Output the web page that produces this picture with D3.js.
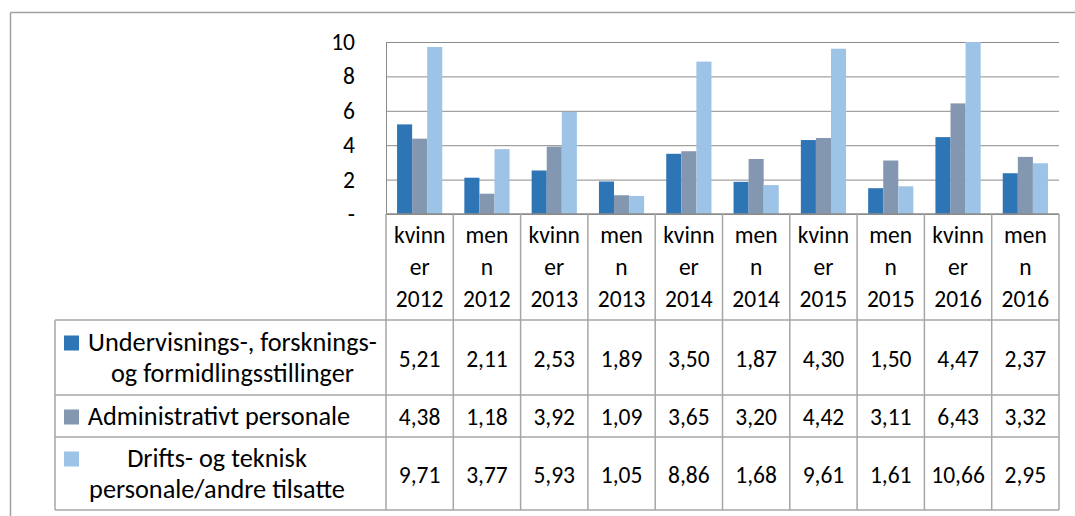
<!DOCTYPE html>
<html><head><meta charset="utf-8">
<script src="https://cdn.jsdelivr.net/npm/d3@7"></script>
<style>
html,body{margin:0;padding:0;background:#fff;}
svg{display:block;font-family:Carlito,Lato,"Liberation Sans",sans-serif;}
</style></head>
<body><svg id="c" width="1075" height="516"></svg>
<script>
const categories = ["kvinner 2012","menn 2012","kvinner 2013","menn 2013","kvinner 2014","menn 2014","kvinner 2015","menn 2015","kvinner 2016","menn 2016"];
const categoryLines = [["kvinn","er","2012"],["men","n","2012"],["kvinn","er","2013"],["men","n","2013"],["kvinn","er","2014"],["men","n","2014"],["kvinn","er","2015"],["men","n","2015"],["kvinn","er","2016"],["men","n","2016"]];
const seriesNames = ["Undervisnings-, forsknings- og formidlingsstillinger","Administrativt personale","Drifts- og teknisk personale/andre tilsatte"];
const seriesNameLines = [["Undervisnings-, forsknings-","og formidlingsstillinger"],["Administrativt personale"],["Drifts- og teknisk","personale/andre tilsatte"]];
const undervisning = [5.21,2.11,2.53,1.89,3.50,1.87,4.30,1.50,4.47,2.37];
const administrativt = [4.38,1.18,3.92,1.09,3.65,3.20,4.42,3.11,6.43,3.32];
const drift = [9.71,3.77,5.93,1.05,8.86,1.68,9.61,1.61,10.66,2.95];
const yTicks = [0,2,4,6,8,10];
const colors = ["#2E75B6","#8497B0","#9DC3E6"];

const series = [undervisning, administrativt, drift];
const svg = d3.select("#c");
const fs = 23.5;
const L = 386, R = 1059, T = 42, B = 214;
const tableLeft = 55, hdrBottom = 320;
const rowBounds = [[320,395],[395,437],[437,510]];
const lineColor = "#a6a6a6";

// outer frame
svg.append("line").attr("x1",10.5).attr("x2",1075).attr("y1",12.5).attr("y2",12.5).attr("stroke","#a0a0a0").attr("stroke-width",1.5);
svg.append("line").attr("x1",10.5).attr("x2",10.5).attr("y1",12.5).attr("y2",516).attr("stroke","#a0a0a0").attr("stroke-width",1.5);

const x = d3.scaleBand().domain(categories).range([L,R]).paddingInner(0).paddingOuter(0);
const y = d3.scaleLinear().domain([0,10]).range([B,T]).clamp(true);
const xs = d3.scaleBand().domain([0,1,2]).range([0,x.bandwidth()]).paddingInner(0).paddingOuter(0.733);

// gridlines
const grid = svg.append("g").attr("transform",`translate(${L},0)`)
  .call(d3.axisLeft(y).tickValues(yTicks).tickSize(-(R-L)).tickFormat(""));
grid.select(".domain").remove();
grid.selectAll(".tick line").attr("stroke","#8c8c8c").attr("stroke-width",1);

// axis labels
const ax = svg.append("g").attr("transform",`translate(${L},0)`)
  .call(d3.axisLeft(y).tickValues(yTicks).tickSize(0).tickPadding(31).tickFormat(d=>d===0?"-":d));
ax.select(".domain").remove();
ax.selectAll("text").attr("font-size",fs).attr("fill","#000").attr("font-family","Carlito,Lato,sans-serif");

// bars
series.forEach((vals,si)=>{
  svg.append("g").selectAll("rect").data(vals).join("rect")
    .attr("x",(d,i)=>x(categories[i])+xs(si))
    .attr("width",xs.bandwidth())
    .attr("y",d=>y(d))
    .attr("height",d=>B-y(d))
    .attr("fill",colors[si]);
});

// plot left axis line
svg.append("line").attr("x1",L+0.5).attr("x2",L+0.5).attr("y1",T).attr("y2",B).attr("stroke","#8c8c8c");

// table lines
const tl = svg.append("g").attr("stroke",lineColor).attr("stroke-width",1.5).attr("fill","none");
tl.append("line").attr("x1",L).attr("x2",R).attr("y1",B).attr("y2",B).attr("stroke","#8c8c8c");
tl.append("line").attr("x1",tableLeft).attr("x2",R).attr("y1",hdrBottom).attr("y2",hdrBottom);
rowBounds.forEach(r=>{
  tl.append("line").attr("x1",tableLeft).attr("x2",R).attr("y1",r[1]).attr("y2",r[1]);
});
tl.append("line").attr("x1",tableLeft).attr("x2",tableLeft).attr("y1",hdrBottom).attr("y2",510);
categories.forEach(c=>{
  tl.append("line").attr("x1",x(c)).attr("x2",x(c)).attr("y1",B).attr("y2",510);
});
tl.append("line").attr("x1",R).attr("x2",R).attr("y1",B).attr("y2",510);

// category header text
const hdr = svg.append("g").attr("font-size",fs).attr("text-anchor","middle").attr("fill","#000");
categoryLines.forEach((lines,i)=>{
  lines.forEach((t,k)=>{
    hdr.append("text").attr("x",x(categories[i])+x.bandwidth()/2).attr("y",235+k*32).attr("dy","0.35em").text(t);
  });
});

// fit legend font so the widest line spans the legend label width
const probe = svg.append("text").attr("font-size",fs).text(seriesNameLines[0][0]);
const probeW = probe.node().getComputedTextLength();
probe.remove();
const legFs = fs * 289 / probeW;

// series rows
const fmt = v => d3.format(".2f")(v).replace(".",",");
const nameCenters = [232.5,219,217];
series.forEach((vals,si)=>{
  const [r0,r1] = rowBounds[si];
  const mid = (r0+r1)/2;
  const g = svg.append("g").attr("fill","#000");
  const lines = seriesNameLines[si];
  const firstY = mid - (lines.length-1)/2*31;
  g.append("rect").attr("x",64).attr("y",firstY-6.5).attr("width",15).attr("height",15).attr("fill",colors[si]);
  lines.forEach((t,k)=>{
    g.append("text").attr("font-size",legFs).attr("x",nameCenters[si]).attr("text-anchor","middle")
      .attr("y", firstY + k*31).attr("dy","0.35em").text(t);
  });
  vals.forEach((v,i)=>{
    g.append("text").attr("font-size",fs).attr("x",x(categories[i])+x.bandwidth()/2).attr("y",mid+1).attr("dy","0.35em")
      .attr("text-anchor","middle").text(fmt(v));
  });
});
</script></body></html>
